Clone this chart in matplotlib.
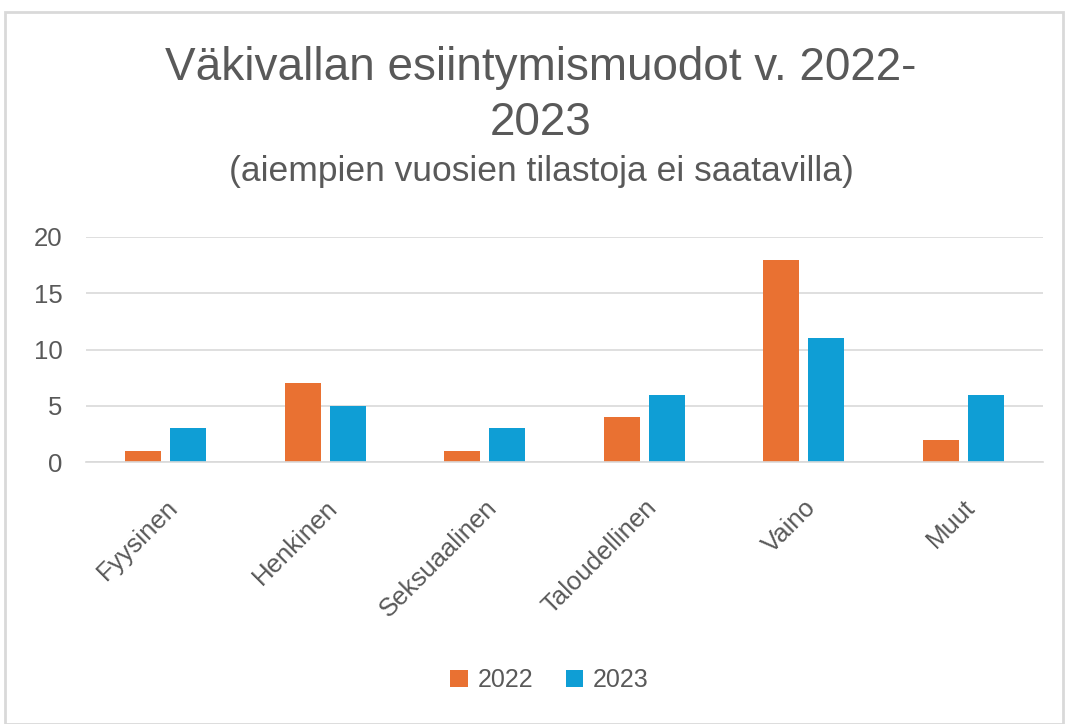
import matplotlib
matplotlib.use("Agg")
import matplotlib.pyplot as plt
from matplotlib.patches import Rectangle
import numpy as np

categories = ["Fyysinen", "Henkinen", "Seksuaalinen", "Taloudellinen", "Vaino", "Muut"]
vals_2022 = [1, 7, 1, 4, 18, 2]
vals_2023 = [3, 5, 3, 6, 11, 6]

plt.rcParams["font.family"] = ["Liberation Sans", "DejaVu Sans"]

grey = "#595959"
orange = "#E97132"
blue = "#0F9ED5"

fig = plt.figure(figsize=(10.67, 7.24), dpi=100)
W, H = 1067, 724
ax = fig.add_axes([86 / W, 1 - 462 / H, (1043 - 86) / W, (462 - 237) / H])

x = np.arange(len(categories))
w = 0.225
ax.bar(x - 0.14, vals_2022, w, color=orange, label="2022")
ax.bar(x + 0.14, vals_2023, w, color=blue, label="2023")

ax.set_xlim(-0.5, len(categories) - 0.5)
ax.set_ylim(0, 20)
ax.set_yticks([0, 5, 10, 15, 20])
ax.yaxis.grid(True, color="#d9d9d9", linewidth=1.2)
ax.set_axisbelow(True)
for s in ["top", "right", "left"]:
    ax.spines[s].set_visible(False)
ax.spines["bottom"].set_color("#d9d9d9")
ax.spines["bottom"].set_linewidth(1.2)
ax.tick_params(axis="both", length=0, labelsize=18.5, labelcolor=grey)
ax.tick_params(axis="y", pad=17)
ax.set_xticks(x)
ax.set_xticklabels(categories, rotation=45, ha="right", rotation_mode="anchor")
ax.tick_params(axis="x", pad=24)

fig.text(0.507, 1 - 68 / H, "Väkivallan esiintymismuodot v. 2022-", ha="center", va="center",
         fontsize=33, color=grey)
fig.text(0.507, 1 - 123 / H, "2023", ha="center", va="center",
         fontsize=33, color=grey)
fig.text(0.507, 1 - 172 / H, "(aiempien vuosien tilastoja ei saatavilla)", ha="center", va="center",
         fontsize=25.5, color=grey)

leg = fig.legend(loc="center", bbox_to_anchor=(0.515, 1 - 680 / H), ncol=2, frameon=False,
                 fontsize=18, handlelength=0.7, handleheight=0.7, columnspacing=1.3, handletextpad=0.4)
for t in leg.get_texts():
    t.set_color(grey)

fig.patches.append(Rectangle((5 / W, 0), 1058 / W, 1 - 12 / H, transform=fig.transFigure,
                             fill=False, edgecolor="#d9d9d9", linewidth=2))

fig.savefig("out.png", dpi=100)
